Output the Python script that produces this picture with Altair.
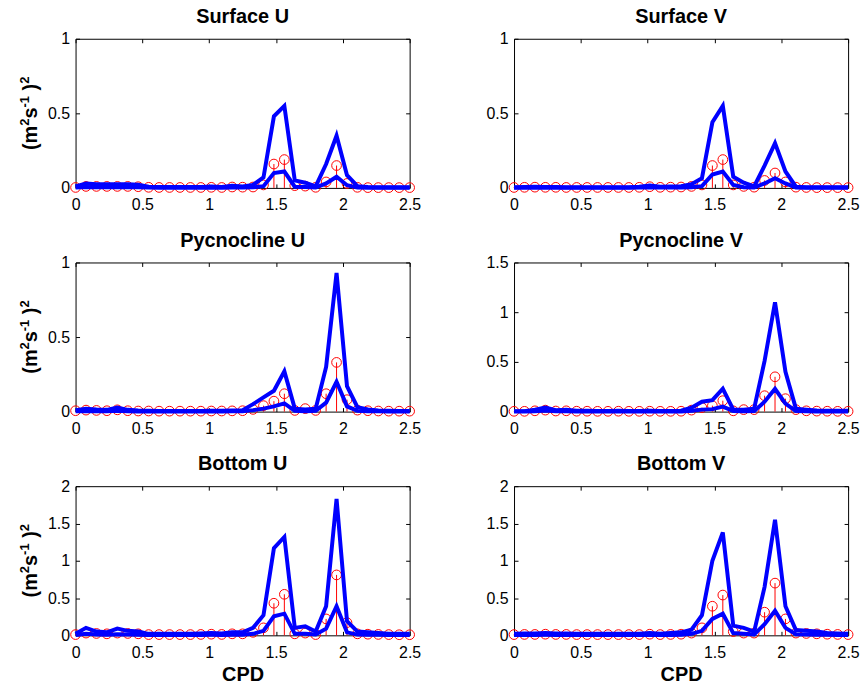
import altair as alt
import pandas as pd

FONT = "Liberation Sans"

FREQ = [0.0, 0.078125, 0.15625, 0.234375, 0.3125, 0.390625, 0.46875, 0.546875,
        0.625, 0.703125, 0.78125, 0.859375, 0.9375, 1.015625, 1.09375, 1.171875,
        1.25, 1.328125, 1.40625, 1.484375, 1.5625, 1.640625, 1.71875, 1.796875,
        1.875, 1.953125, 2.03125, 2.109375, 2.1875, 2.265625, 2.34375, 2.421875, 2.5]

XTICKS = [0, 0.5, 1, 1.5, 2, 2.5]

TITLES = ["Surface U", "Surface V", "Pycnocline U", "Pycnocline V", "Bottom U", "Bottom V"]
YMAX = [1, 1, 1, 1.5, 2, 2]
YTICKS = [[0, 0.5, 1], [0, 0.5, 1], [0, 0.5, 1], [0, 0.5, 1, 1.5],
          [0, 0.5, 1, 1.5, 2], [0, 0.5, 1, 1.5, 2]]

SU_EST = [0.003,0.010,0.010,0.010,0.010,0.010,0.008,0.004,0.003,0.003,0.003,0.003,0.003,0.004,0.003,0.006,0.005,0.006,0.020,0.160,0.190,0.015,0.012,0.004,0.040,0.150,0.030,0.004,0.002,0.002,0.002,0.002,0.002]
SU_HI = [0.010,0.030,0.025,0.025,0.025,0.025,0.022,0.008,0.006,0.006,0.006,0.006,0.006,0.010,0.006,0.014,0.010,0.020,0.070,0.480,0.550,0.050,0.035,0.010,0.160,0.350,0.085,0.012,0.006,0.005,0.005,0.005,0.005]
SU_LO = [0.002,0.006,0.005,0.005,0.005,0.005,0.004,0.002,0.001,0.001,0.001,0.001,0.001,0.002,0.001,0.003,0.002,0.004,0.012,0.100,0.110,0.008,0.006,0.002,0.030,0.075,0.018,0.002,0.001,0.001,0.001,0.001,0.001]

SV_EST = [0.003,0.004,0.005,0.004,0.004,0.003,0.003,0.003,0.003,0.003,0.003,0.003,0.004,0.008,0.004,0.005,0.006,0.010,0.020,0.150,0.190,0.020,0.010,0.005,0.050,0.100,0.040,0.005,0.003,0.002,0.002,0.002,0.002]
SV_HI = [0.005,0.006,0.008,0.006,0.006,0.005,0.005,0.005,0.005,0.005,0.005,0.005,0.008,0.016,0.008,0.010,0.012,0.025,0.065,0.440,0.550,0.075,0.035,0.010,0.150,0.300,0.110,0.008,0.005,0.004,0.004,0.004,0.004]
SV_LO = [0.001,0.001,0.002,0.001,0.001,0.001,0.001,0.001,0.001,0.001,0.001,0.001,0.002,0.004,0.002,0.002,0.003,0.004,0.012,0.090,0.110,0.020,0.005,0.002,0.030,0.065,0.030,0.002,0.001,0.001,0.001,0.001,0.001]

PU_EST = [0.006,0.010,0.008,0.006,0.012,0.006,0.004,0.004,0.003,0.003,0.003,0.003,0.003,0.004,0.004,0.005,0.006,0.015,0.040,0.070,0.120,0.008,0.020,0.008,0.120,0.330,0.080,0.010,0.006,0.004,0.003,0.003,0.003]
PU_HI = [0.010,0.020,0.015,0.012,0.027,0.012,0.008,0.006,0.005,0.005,0.005,0.005,0.005,0.006,0.006,0.008,0.010,0.050,0.095,0.140,0.270,0.020,0.015,0.020,0.300,0.930,0.170,0.030,0.015,0.008,0.006,0.005,0.005]
PU_LO = [0.002,0.004,0.003,0.002,0.005,0.002,0.001,0.001,0.001,0.001,0.001,0.001,0.001,0.001,0.001,0.002,0.002,0.010,0.020,0.035,0.055,0.005,0.003,0.005,0.060,0.200,0.035,0.005,0.003,0.002,0.001,0.001,0.001]

PV_EST = [0.003,0.003,0.008,0.015,0.006,0.008,0.004,0.004,0.003,0.003,0.004,0.003,0.003,0.004,0.003,0.003,0.004,0.015,0.040,0.060,0.110,0.008,0.020,0.020,0.160,0.350,0.130,0.020,0.008,0.005,0.004,0.003,0.003]
PV_HI = [0.005,0.005,0.020,0.040,0.015,0.020,0.010,0.008,0.006,0.006,0.008,0.006,0.006,0.008,0.006,0.006,0.010,0.040,0.100,0.115,0.230,0.020,0.020,0.030,0.510,1.100,0.400,0.030,0.020,0.012,0.010,0.008,0.008]
PV_LO = [0.001,0.001,0.003,0.010,0.003,0.004,0.002,0.002,0.001,0.001,0.002,0.001,0.001,0.002,0.001,0.001,0.002,0.008,0.020,0.025,0.050,0.005,0.004,0.005,0.100,0.230,0.080,0.005,0.003,0.002,0.002,0.001,0.001]

BU_EST = [0.010,0.030,0.025,0.020,0.030,0.025,0.020,0.010,0.010,0.010,0.010,0.010,0.012,0.015,0.012,0.020,0.020,0.040,0.100,0.430,0.550,0.020,0.030,0.010,0.220,0.810,0.170,0.020,0.015,0.012,0.010,0.008,0.008]
BU_HI = [0.020,0.100,0.050,0.040,0.090,0.060,0.050,0.020,0.020,0.020,0.020,0.020,0.025,0.030,0.025,0.040,0.040,0.100,0.270,1.170,1.320,0.100,0.120,0.050,0.390,1.830,0.190,0.050,0.040,0.030,0.020,0.020,0.020]
BU_LO = [0.003,0.020,0.010,0.008,0.015,0.010,0.008,0.004,0.004,0.004,0.004,0.004,0.005,0.006,0.005,0.008,0.008,0.020,0.060,0.255,0.290,0.020,0.020,0.010,0.090,0.390,0.040,0.010,0.008,0.006,0.004,0.004,0.004]

BV_EST = [0.010,0.012,0.012,0.015,0.012,0.012,0.010,0.010,0.010,0.010,0.010,0.010,0.010,0.015,0.010,0.012,0.015,0.030,0.100,0.390,0.540,0.050,0.030,0.030,0.310,0.700,0.220,0.030,0.025,0.020,0.015,0.012,0.010]
BV_HI = [0.020,0.025,0.025,0.030,0.025,0.025,0.020,0.020,0.020,0.020,0.020,0.020,0.020,0.030,0.020,0.030,0.040,0.076,0.270,1.000,1.380,0.130,0.100,0.050,0.650,1.550,0.390,0.070,0.060,0.050,0.030,0.025,0.020]
BV_LO = [0.003,0.005,0.005,0.006,0.005,0.005,0.004,0.004,0.004,0.004,0.004,0.004,0.004,0.006,0.004,0.005,0.008,0.020,0.060,0.220,0.290,0.030,0.020,0.010,0.150,0.330,0.100,0.015,0.010,0.008,0.006,0.005,0.004]

SERIES = [(SU_EST, SU_LO, SU_HI), (SV_EST, SV_LO, SV_HI),
          (PU_EST, PU_LO, PU_HI), (PV_EST, PV_LO, PV_HI),
          (BU_EST, BU_LO, BU_HI), (BV_EST, BV_LO, BV_HI)]

# y-axis unit title "(m^2 s^-1 )^2", split in normal / superscript pieces
YT_PIECES = ["(m", "2", "s", "-1", ")", "2"]
YT_SUPER = [False, True, False, True, False, True]

W, H = 336, 150
MAIN_FS, SUP_FS = 20, 13
# Liberation Sans Bold advance widths (em)
ADV = {"(": 0.333, "m": 0.889, "s": 0.556, ")": 0.333, "2": 0.556, "-": 0.333, "1": 0.556, " ": 0.278}


def ytitle_layers():
    sizes = [SUP_FS if s else MAIN_FS for s in YT_SUPER]
    widths = [sum(ADV[c] for c in p) * fs for p, fs in zip(YT_PIECES, sizes)]
    gaps = [0, 0, 0, 0, ADV[" "] * MAIN_FS, 0]
    total = sum(widths) + sum(gaps)
    pos = H / 2 + total / 2
    layers = []
    one = pd.DataFrame({"k": [0]})
    for p, sup, fs, w, g in zip(YT_PIECES, YT_SUPER, sizes, widths, gaps):
        pos -= g
        layers.append(
            alt.Chart(one).mark_text(
                text=p, angle=270, align="left", baseline="alphabetic",
                font=FONT, fontSize=fs, fontWeight="bold", color="black",
            ).encode(x=alt.value(-47 if sup else -39), y=alt.value(pos))
        )
        pos -= w
    return layers


def panel(k):
    est, lo, hi = SERIES[k]
    left = (k % 2 == 0)
    bottom = (k >= 4)
    df = pd.DataFrame({"f": FREQ, "est": est, "lo": lo, "hi": hi})
    xs = alt.Scale(domain=[0, 2.5], nice=False, zero=False)
    ys = alt.Scale(domain=[0, YMAX[k]], nice=False)

    xkw = dict(values=XTICKS, format="~g", offset=-4, tickSize=4, labelPadding=9,
               labelFlush=False, domain=False, grid=False, labelFontSize=16,
               labelColor="black", labelFont=FONT, tickColor="black", minExtent=0)
    if bottom:
        xkw.update(title="CPD", titleFontSize=20, titleFontWeight="bold", titleFont=FONT,
                   titleColor="black", titleX=W / 2, titleY=49, titleAlign="center",
                   titleBaseline="alphabetic")
    else:
        xkw.update(title=None)
    x_bottom = alt.Axis(**xkw)

    y_left = alt.Axis(values=YTICKS[k], format="~g", offset=-4, tickSize=4, labelPadding=6,
                      labelFlush=False, domain=False, grid=False, labelFontSize=16,
                      labelColor="black", labelFont=FONT, tickColor="black", minExtent=0,
                      title=None)

    x_top = alt.Axis(orient="top", values=XTICKS, offset=-4, tickSize=4, labels=False,
                     domain=False, grid=False, title=None, tickColor="black",
                     minExtent=0, maxExtent=0)
    y_right = alt.Axis(orient="right", values=YTICKS[k], offset=-4, tickSize=4, labels=False,
                       domain=False, grid=False, title=None, tickColor="black",
                       minExtent=0, maxExtent=0)

    base = alt.Chart(df)
    stems = base.mark_rule(color="#ff0000", strokeWidth=1).encode(
        x=alt.X("f:Q", scale=xs, axis=x_bottom),
        y=alt.Y("est:Q", scale=ys, axis=y_left),
        y2=alt.datum(0),
    )
    pts = base.mark_point(shape="circle", filled=False, color="#ff0000", size=95,
                          strokeWidth=1, opacity=1).encode(
        x=alt.X("f:Q", scale=xs, axis=None),
        y=alt.Y("est:Q", scale=ys, axis=None),
    )
    hi_line = base.mark_line(color="#0000ff", strokeWidth=4).encode(
        x=alt.X("f:Q", scale=xs, axis=x_top),
        y=alt.Y("hi:Q", scale=ys, axis=y_right),
    )
    lo_line = base.mark_line(color="#0000ff", strokeWidth=4).encode(
        x=alt.X("f:Q", scale=xs, axis=None),
        y=alt.Y("lo:Q", scale=ys, axis=None),
    )
    layers = [stems, pts, hi_line, lo_line]
    if left:
        layers += ytitle_layers()
    return alt.layer(*layers).resolve_axis(
        x="independent", y="independent"
    ).properties(
        width=W, height=H,
        title=alt.TitleParams(TITLES[k], font=FONT, fontSize=20, fontWeight="bold",
                              color="black", frame="group", anchor="middle",
                              baseline="alphabetic", offset=-12),
    )


chart = alt.concat(*[panel(k) for k in range(6)], columns=2,
                   spacing={"row": 75, "column": 105}, bounds="flush").properties(
    padding={"left": 18, "top": 4, "right": 5, "bottom": 2},
    background="white",
).configure_view(stroke="black", strokeWidth=1)

chart.save("out.html", embed_options={"renderer": "svg", "actions": False})
